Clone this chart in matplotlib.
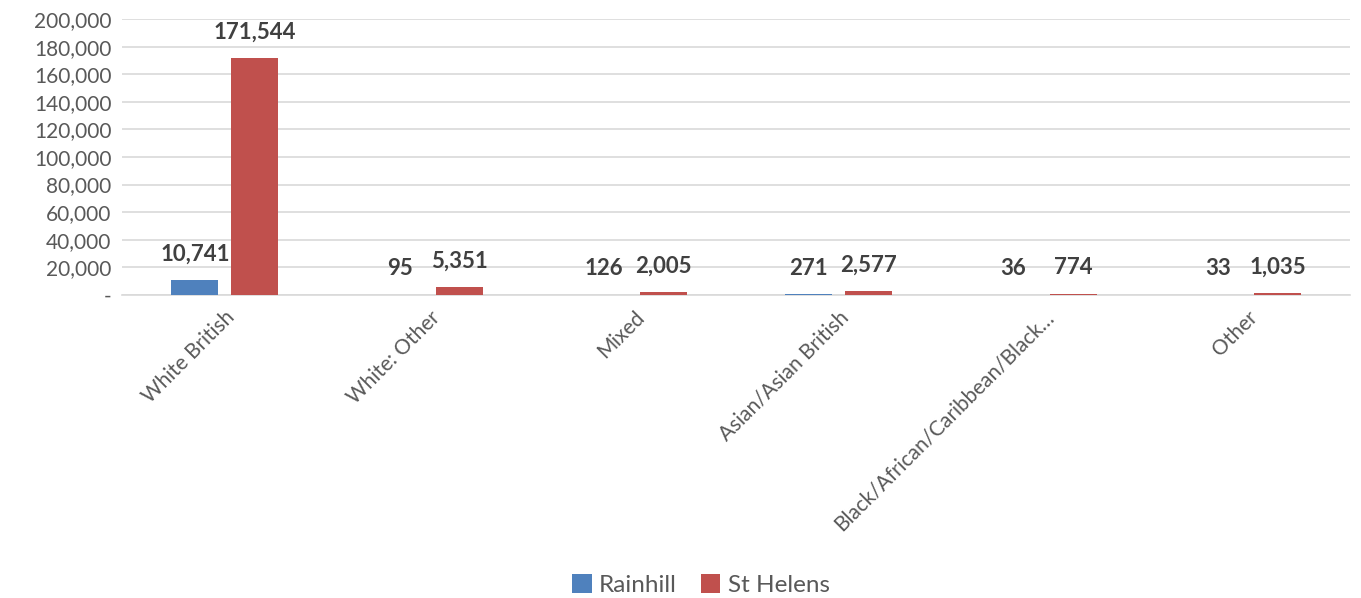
import numpy as np
import matplotlib.pyplot as plt
from matplotlib.ticker import FuncFormatter

# Data
categories = ["White British", "White: Other", "Mixed", "Asian/Asian British",
              "Black/African/Caribbean/Black\u2026", "Other"]
rainhill = [10741, 95, 126, 271, 36, 33]
st_helens = [171544, 5351, 2005, 2577, 774, 1035]
series_names = ["Rainhill", "St Helens"]

plt.rcParams["font.family"] = ["Lato", "DejaVu Sans"]

fig = plt.figure(figsize=(13.61, 5.98), dpi=100)
ax = fig.add_axes([0.09, 0.507, 0.902, 0.461])

x = np.arange(len(categories))
w = 0.23
off = 0.146
b1 = ax.bar(x - off, rainhill, w, color="#4f81bd", label=series_names[0], zorder=3)
b2 = ax.bar(x + off, st_helens, w, color="#c0504d", label=series_names[1], zorder=3)

for bars, vals in ((b1, rainhill), (b2, st_helens)):
    for rect, v in zip(bars, vals):
        ax.annotate(f"{v:,}", (rect.get_x() + rect.get_width() / 2, v),
                    xytext=(0, 11), textcoords="offset points",
                    ha="center", va="bottom", fontsize=16, fontweight="bold",
                    color="#404040")

ax.set_ylim(0, 200000)
ax.set_yticks(np.arange(0, 200001, 20000))
ax.yaxis.set_major_formatter(FuncFormatter(lambda v, p: "-" if v == 0 else f"{v:,.0f}"))
ax.set_xlim(-0.5, len(categories) - 0.5)
ax.set_xticks(x)
ax.set_xticklabels(categories, rotation=45, ha="right", rotation_mode="anchor")

ax.grid(axis="y", color="#d9d9d9", linewidth=1.2, zorder=0)
for s in ["top", "right", "left"]:
    ax.spines[s].set_visible(False)
ax.spines["bottom"].set_color("#d9d9d9")
ax.spines["bottom"].set_linewidth(1.2)
ax.tick_params(axis="both", length=0, labelsize=15, labelcolor="#595959")
ax.tick_params(axis="y", pad=8)
ax.tick_params(axis="x", pad=9)

fig.legend(loc="lower center", bbox_to_anchor=(0.515, -0.033), ncol=2, frameon=False,
           fontsize=17.5, handlelength=0.8, handleheight=0.8, handletextpad=0.3,
           columnspacing=1.0, labelcolor="#595959")

plt.savefig("out.png")
